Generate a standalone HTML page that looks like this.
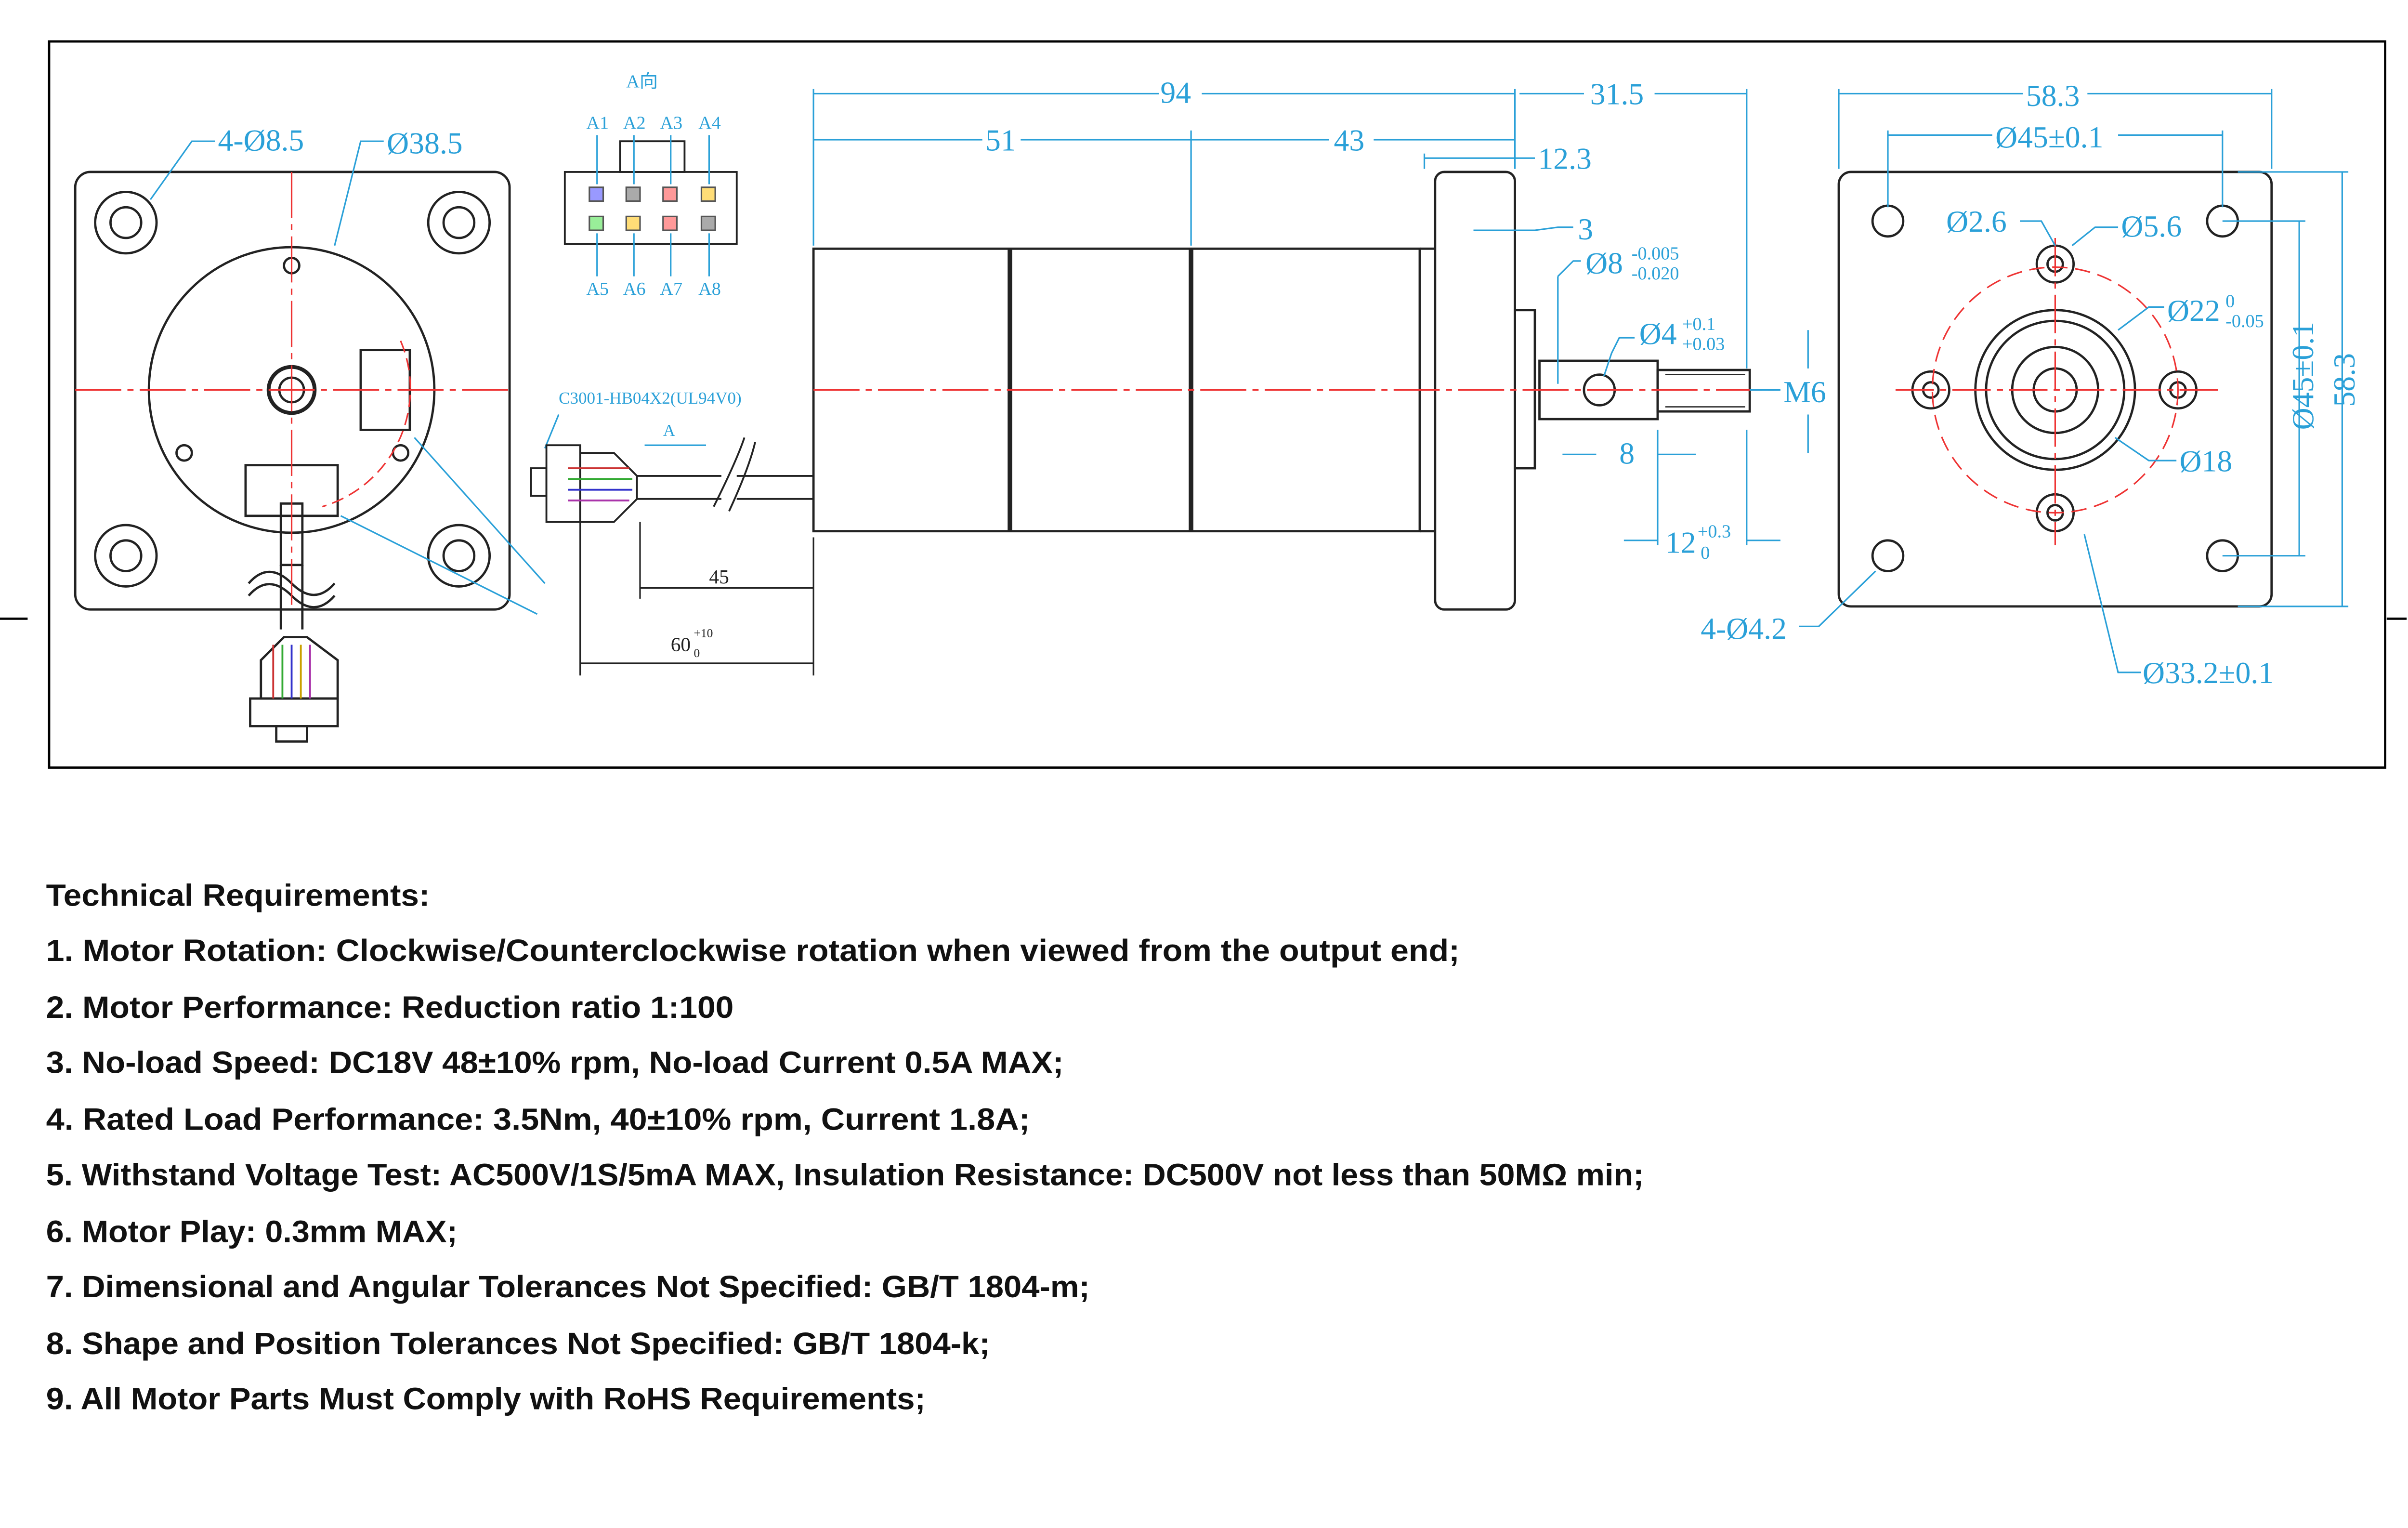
<!DOCTYPE html>
<html><head><meta charset="utf-8"><style>html,body{margin:0;padding:0;background:#fff;overflow:hidden}svg{display:block}</style></head>
<body>
<svg width="5147" height="3172" viewBox="0 0 1615 995" preserveAspectRatio="xMinYMin meet" xmlns="http://www.w3.org/2000/svg" font-family="Liberation Serif, serif">
<rect width="1615" height="995" fill="#fff"/>
<rect x="32" y="27" width="1522" height="473" fill="none" stroke="#000" stroke-width="1.5"/>
<line x1="0" y1="403" x2="18" y2="403" stroke="#000" stroke-width="1.5"/>
<line x1="1555" y1="403" x2="1568" y2="403" stroke="#000" stroke-width="1.5"/>

<!-- Left view -->
<g stroke="#222" fill="none" stroke-width="1.5">
<rect x="49" y="112" width="283" height="285" rx="10"/>
<circle cx="190" cy="254" r="93"/>
<circle cx="82" cy="145" r="20"/><circle cx="82" cy="145" r="10"/>
<circle cx="299" cy="145" r="20"/><circle cx="299" cy="145" r="10"/>
<circle cx="82" cy="362" r="20"/><circle cx="82" cy="362" r="10"/>
<circle cx="299" cy="362" r="20"/><circle cx="299" cy="362" r="10"/>
<circle cx="190" cy="254" r="15" stroke-width="2.5"/><circle cx="190" cy="254" r="8"/>
<rect x="235" y="228" width="32" height="52"/>
<circle cx="190" cy="173" r="5"/><circle cx="120" cy="295" r="5"/><circle cx="261" cy="295" r="5"/>
<rect x="160" y="303" width="60" height="33"/>
<rect x="183" y="328" width="14" height="40"/>
<path d="M183 368 V410 M197 368 V410"/>
<path d="M162 380 Q175 365 190 380 T218 380 M162 388 Q175 373 190 388 T218 388"/>
<path d="M170 430 L185 415 H200 L220 430 V455 H170 Z"/>
<rect x="163" y="455" width="57" height="18"/>
<rect x="180" y="473" width="20" height="10"/>
</g>
<g stroke-width="1.2" fill="none">
<path d="M178 420 V455" stroke="#c33"/><path d="M184 420 V455" stroke="#3a3"/><path d="M190 420 V455" stroke="#33c"/><path d="M196 420 V455" stroke="#c9a000"/><path d="M202 420 V455" stroke="#a3a"/>
</g>
<g stroke="#e33" stroke-width="1" fill="none">
<line x1="49" y1="254" x2="332" y2="254" stroke-dasharray="30 4 4 4"/>
<line x1="190" y1="112" x2="190" y2="397" stroke-dasharray="30 4 4 4"/>
<path d="M261 222 A80 80 0 0 1 210 330" stroke-dasharray="8 4"/>
</g>
<g stroke="#2aa0d8" fill="none" stroke-width="1">
<path d="M98 130 L125 92 H140"/><path d="M218 160 L235 92 H250"/>
<path d="M270 285 L355 380"/><path d="M222 336 L350 400"/>
</g>
<g fill="#2aa0d8" font-size="20">
<text x="142" y="98">4-Ø8.5</text><text x="252" y="100">Ø38.5</text>
</g>

<!-- connector A view -->
<g stroke="#222" fill="none" stroke-width="1.2">
<rect x="368" y="112" width="112" height="47"/>
<rect x="404" y="92" width="42" height="20"/>
</g>
<g stroke="#555" stroke-width="1">
<rect x="384" y="122" width="9" height="9" fill="#99f"/><rect x="408" y="122" width="9" height="9" fill="#aaa"/><rect x="432" y="122" width="9" height="9" fill="#f99"/><rect x="457" y="122" width="9" height="9" fill="#fd7"/>
<rect x="384" y="141" width="9" height="9" fill="#9e9"/><rect x="408" y="141" width="9" height="9" fill="#fd7"/><rect x="432" y="141" width="9" height="9" fill="#f99"/><rect x="457" y="141" width="9" height="9" fill="#aaa"/>
</g>
<g stroke="#2aa0d8" stroke-width="1">
<path d="M389 88 V120 M413 88 V120 M437 88 V120 M462 88 V120 M389 152 V180 M413 152 V180 M437 152 V180 M462 152 V180"/>
</g>
<g fill="#2aa0d8" font-size="12">
<text x="408" y="57">A向</text>
<text x="382" y="84">A1</text><text x="406" y="84">A2</text><text x="430" y="84">A3</text><text x="455" y="84">A4</text>
<text x="382" y="192">A5</text><text x="406" y="192">A6</text><text x="430" y="192">A7</text><text x="455" y="192">A8</text>
<text x="364" y="263" font-size="11">C3001-HB04X2(UL94V0)</text>
<text x="432" y="284" font-size="11">A</text>
</g>
<path d="M364 270 L355 292" stroke="#2aa0d8" fill="none"/>
<path d="M420 290 H460" stroke="#2aa0d8"/>
<g stroke="#222" fill="none" stroke-width="1.2">
<rect x="356" y="290" width="22" height="50"/>
<rect x="346" y="305" width="10" height="18"/>
<path d="M378 295 H400 L415 310 V325 L400 340 H378"/>
<path d="M415 310 H470 M415 325 H470"/>
<path d="M480 310 H530 M480 325 H530"/>
<path d="M465 330 Q480 300 485 285 M475 333 Q488 305 492 288"/>
</g>
<g stroke-width="1.2" fill="none"><path d="M370 305 H410" stroke="#c33"/><path d="M370 312 H412" stroke="#3a3"/><path d="M370 319 H412" stroke="#33c"/><path d="M370 326 H410" stroke="#a3a"/></g>
<g stroke="#222" stroke-width="1">
<path d="M417 340 V390 M530 350 V440 M378 340 V440"/>
<path d="M417 383 H530 M378 432 H530"/>
</g>
<g fill="#222" font-size="13"><text x="462" y="380">45</text><text x="437" y="424">60</text><text x="452" y="415" font-size="8">+10</text><text x="452" y="428" font-size="8">0</text></g>

<!-- motor side -->
<g stroke="#222" fill="none" stroke-width="1.5">
<rect x="530" y="162" width="395" height="184"/>
<line x1="658" y1="162" x2="658" y2="346" stroke-width="3"/>
<line x1="776" y1="162" x2="776" y2="346" stroke-width="3"/>
<rect x="935" y="112" width="52" height="285" rx="6"/>
<line x1="925" y1="162" x2="935" y2="162"/><line x1="925" y1="346" x2="935" y2="346"/>
<rect x="987" y="202" width="13" height="103"/>
<rect x="1003" y="235" width="77" height="38"/>
<rect x="1080" y="241" width="60" height="27"/>
<circle cx="1042" cy="254" r="10"/>
<line x1="1085" y1="244" x2="1137" y2="244" stroke-width="0.8"/><line x1="1085" y1="265" x2="1137" y2="265" stroke-width="0.8"/>
</g>
<line x1="530" y1="254" x2="1160" y2="254" stroke="#e33" stroke-dasharray="30 4 4 4"/>
<g stroke="#2aa0d8" fill="none" stroke-width="1">
<path d="M530 58 V160 M987 58 V110 M1138 58 V240 M776 85 V160 M928 100 V110"/>
<path d="M530 61 H755 M783 61 H987 M990 61 H1032 M1078 61 H1138"/>
<path d="M530 91 H640 M665 91 H776 M776 91 H866 M895 91 H987"/>
<path d="M928 103 H1000"/>
<path d="M960 150 L1000 150 L1015 148 H1025"/>
<path d="M1015 180 L1025 170 H1030 M1015 180 V250"/>
<path d="M1050 230 L1055 220 H1065 M1045 245 L1050 230"/>
<path d="M1178 215 V240 M1178 270 V295 M1140 254 H1160"/>
<path d="M1018 296 H1040 M1080 296 H1105 M1080 280 V355 M1138 280 V355 M1058 352 H1080 M1138 352 H1160"/>
</g>
<g fill="#2aa0d8" font-size="20">
<text x="756" y="67">94</text><text x="1036" y="68">31.5</text>
<text x="642" y="98">51</text><text x="869" y="98">43</text>
<text x="1002" y="110">12.3</text><text x="1028" y="156">3</text>
<text x="1033" y="178">Ø8</text><text x="1063" y="169" font-size="12">-0.005</text><text x="1063" y="182" font-size="12">-0.020</text>
<text x="1068" y="224">Ø4</text><text x="1096" y="215" font-size="12">+0.1</text><text x="1096" y="228" font-size="12">+0.03</text>
<text x="1162" y="262">M6</text>
<text x="1055" y="302">8</text>
<text x="1085" y="360">12</text><text x="1106" y="350" font-size="12">+0.3</text><text x="1108" y="364" font-size="12">0</text>
</g>

<!-- right view -->
<g stroke="#222" fill="none" stroke-width="1.5">
<rect x="1198" y="112" width="282" height="283" rx="8"/>
<circle cx="1339" cy="254" r="52"/><circle cx="1339" cy="254" r="45"/><circle cx="1339" cy="254" r="28"/><circle cx="1339" cy="254" r="14"/>
<circle cx="1258" cy="254" r="12"/><circle cx="1258" cy="254" r="5"/>
<circle cx="1419" cy="254" r="12"/><circle cx="1419" cy="254" r="5"/>
<circle cx="1339" cy="172" r="12"/><circle cx="1339" cy="172" r="5"/>
<circle cx="1339" cy="334" r="12"/><circle cx="1339" cy="334" r="5"/>
<circle cx="1230" cy="144" r="10"/><circle cx="1448" cy="144" r="10"/><circle cx="1230" cy="362" r="10"/><circle cx="1448" cy="362" r="10"/>
</g>
<g stroke="#e33" fill="none" stroke-width="1">
<circle cx="1339" cy="254" r="80" stroke-dasharray="10 5"/>
<line x1="1235" y1="254" x2="1445" y2="254" stroke-dasharray="25 4 4 4"/>
<line x1="1339" y1="155" x2="1339" y2="355" stroke-dasharray="25 4 4 4"/>
</g>
<g stroke="#2aa0d8" fill="none" stroke-width="1">
<path d="M1198 58 V110 M1480 58 V110 M1198 61 H1318 M1360 61 H1480"/>
<path d="M1230 85 V135 M1448 85 V135 M1230 88 H1298 M1380 88 H1448"/>
<path d="M1458 112 H1530 M1458 395 H1530 M1526 112 V395"/>
<path d="M1448 144 H1502 M1448 362 H1502 M1498 144 V362"/>
<path d="M1316 144 H1330 L1339 160 M1350 160 L1365 148 H1380"/>
<path d="M1380 215 L1400 200 H1410 M1378 285 L1400 300 H1418"/>
<path d="M1358 348 L1380 438 H1395 M1222 372 L1185 408 H1172"/>
</g>
<g fill="#2aa0d8" font-size="20">
<text x="1320" y="69">58.3</text><text x="1300" y="96">Ø45±0.1</text>
<text x="1268" y="151">Ø2.6</text><text x="1382" y="154">Ø5.6</text>
<text x="1412" y="209">Ø22</text><text x="1450" y="200" font-size="12">0</text><text x="1450" y="213" font-size="12">-0.05</text>
<text x="1420" y="307">Ø18</text><text x="1396" y="445">Ø33.2±0.1</text><text x="1108" y="416">4-Ø4.2</text>
<text transform="translate(1507 280) rotate(-90)">Ø45±0.1</text>
<text transform="translate(1534 265) rotate(-90)">58.3</text>
</g>

<!-- Technical requirements -->
<g font-family="Liberation Sans, sans-serif" font-weight="bold" font-size="20" fill="#111">
<text x="30" y="590" textLength="250" lengthAdjust="spacingAndGlyphs">Technical Requirements:</text>
<text x="30" y="626" textLength="921" lengthAdjust="spacingAndGlyphs">1. Motor Rotation: Clockwise/Counterclockwise rotation when viewed from the output end;</text>
<text x="30" y="663" textLength="448" lengthAdjust="spacingAndGlyphs">2. Motor Performance: Reduction ratio 1:100</text>
<text x="30" y="699" textLength="663" lengthAdjust="spacingAndGlyphs">3. No-load Speed: DC18V 48±10% rpm, No-load Current 0.5A MAX;</text>
<text x="30" y="736" textLength="641" lengthAdjust="spacingAndGlyphs">4. Rated Load Performance: 3.5Nm, 40±10% rpm, Current 1.8A;</text>
<text x="30" y="772" textLength="1041" lengthAdjust="spacingAndGlyphs">5. Withstand Voltage Test: AC500V/1S/5mA MAX, Insulation Resistance: DC500V not less than 50MΩ min;</text>
<text x="30" y="809" textLength="268" lengthAdjust="spacingAndGlyphs">6. Motor Play: 0.3mm MAX;</text>
<text x="30" y="845" textLength="680" lengthAdjust="spacingAndGlyphs">7. Dimensional and Angular Tolerances Not Specified: GB/T 1804-m;</text>
<text x="30" y="882" textLength="615" lengthAdjust="spacingAndGlyphs">8. Shape and Position Tolerances Not Specified: GB/T 1804-k;</text>
<text x="30" y="918" textLength="573" lengthAdjust="spacingAndGlyphs">9. All Motor Parts Must Comply with RoHS Requirements;</text>
</g>
</svg>
</body></html>
